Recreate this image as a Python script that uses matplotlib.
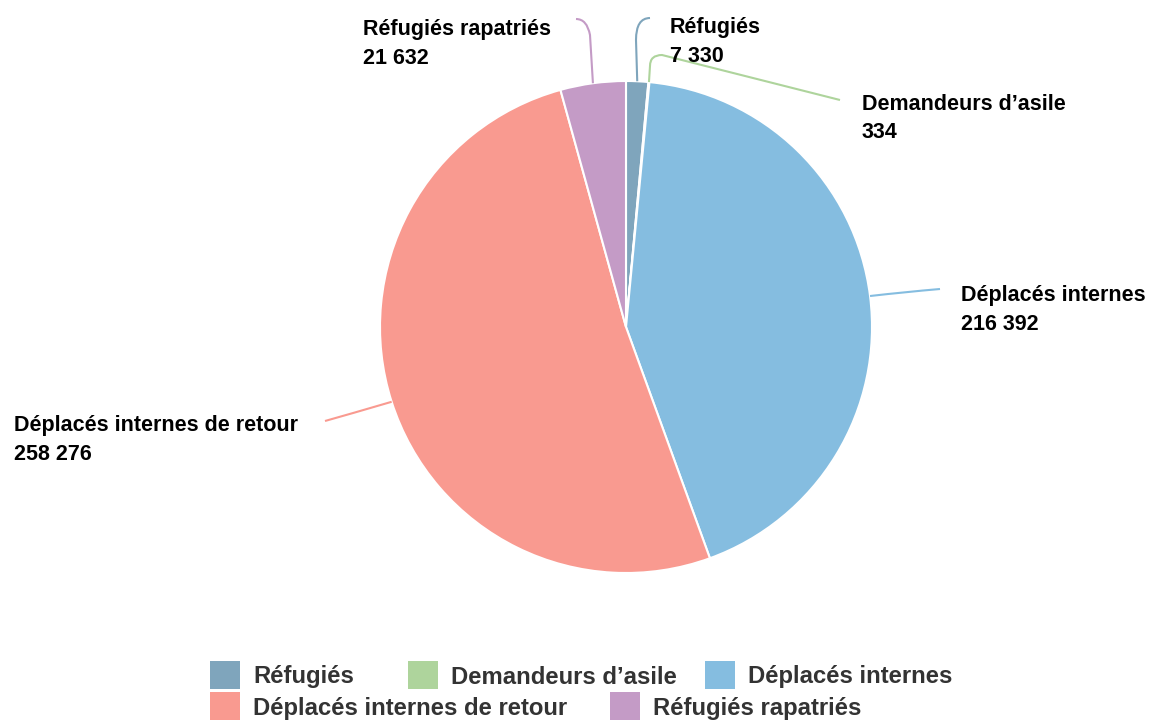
import numpy as np
import matplotlib.pyplot as plt
from matplotlib.path import Path
from matplotlib.patches import PathPatch, Rectangle

plt.rcParams['font.family'] = ['Liberation Sans', 'DejaVu Sans']

categories = ['Réfugiés', 'Demandeurs d\u2019asile', 'Déplacés internes',
              'Déplacés internes de retour', 'Réfugiés rapatriés']
values = [7330, 334, 216392, 258276, 21632]
colors = ['#7fa5bc', '#aed49c', '#85bde0', '#f99a90', '#c49bc6']

W, H = 1153, 720
cx, cy, R = 626, 327, 246


def Y(y):
    return H - y


def fmt(v):
    return f"{v:,}".replace(',', ' ')


fig = plt.figure(figsize=(W / 100, H / 100), dpi=100)
ax = fig.add_axes([0, 0, 1, 1])
ax.set_xlim(0, W)
ax.set_ylim(0, H)
ax.set_aspect('equal')
ax.axis('off')

wedges, _ = ax.pie(values, colors=colors, startangle=90, counterclock=False,
                   center=(cx, Y(cy)), radius=R,
                   wedgeprops=dict(edgecolor='white', linewidth=1.5))
ax.set_xlim(0, W)
ax.set_ylim(0, H)

# label text positions (left x, top-line y) and connector waypoints (image px)
label_pos = [(670, 27), (862, 104), (961, 295), (14, 425), (363, 29)]
connectors = [
    [(636, 40), (636, 18), (650, 18)],
    [(650, 66), (650, 55), (662, 55), (840, 100)],
    [(905, 292), (940, 289)],
    [(350, 414), (325, 421)],
    [(590, 35), (587, 19), (576, 19)],
]

for w, col, lp, pts in zip(wedges, colors, label_pos, connectors):
    th = np.deg2rad((w.theta1 + w.theta2) / 2)
    p0 = (cx + R * np.cos(th), Y(cy) + R * np.sin(th))
    verts = [p0]
    codes = [Path.MOVETO]
    for i, (px, py) in enumerate(pts):
        verts.append((px, Y(py)))
    if len(pts) == 3:
        codes += [Path.LINETO, Path.CURVE3, Path.CURVE3]
    elif len(pts) == 4:
        codes += [Path.LINETO, Path.CURVE3, Path.CURVE3, Path.LINETO]
    else:
        codes += [Path.CURVE3, Path.CURVE3]
    ax.add_patch(PathPatch(Path(verts, codes), fill=False, edgecolor=col,
                           linewidth=1.5))

for name, v, (lx, ly) in zip(categories, values, label_pos):
    ax.text(lx, Y(ly + 1), name, fontsize=15.5, fontweight='bold',
            color='black', ha='left', va='center')
    ax.text(lx, Y(ly + 29), fmt(v), fontsize=15.5, fontweight='bold',
            color='black', ha='left', va='center')

# legend
legend_pos = [(210, 675), (408, 675), (705, 675), (210, 706), (610, 706)]
for name, col, (lx, ly) in zip(categories, colors, legend_pos):
    ax.add_patch(Rectangle((lx, Y(ly) - 14), 30, 28, facecolor=col,
                           edgecolor='none'))
    ax.text(lx + 43, Y(ly + 2), name, fontsize=17.2, fontweight='bold',
            color='#333333', ha='left', va='center')

fig.savefig('out.png', dpi=100)
